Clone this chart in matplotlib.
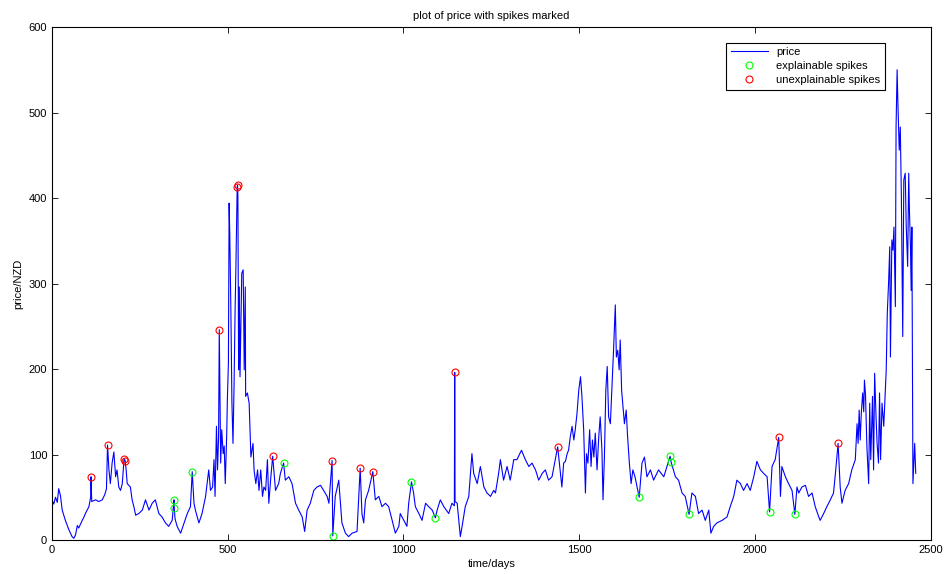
import numpy as np
import matplotlib
matplotlib.use('Agg')
import matplotlib.pyplot as plt

# price series, (day, NZD) pairs kept in chunks
days_a = [0, 5, 10, 15, 19, 24, 29, 38, 48, 57, 62, 67, 72, 76, 86, 91, 95, 105, 110, 111, 113, 124, 133, 143,
          150, 155, 158, 162, 166, 171, 176, 181, 185, 190, 195, 200, 205, 208, 211, 214, 223, 228, 233, 238,
          247, 257, 266, 276, 285, 294, 304, 313, 323, 332, 342, 347, 348, 350, 356, 366, 375, 385, 394, 399,
          404, 408, 418, 427, 437, 446, 451, 457]
price_a = [47, 42, 50, 44, 60, 52, 35, 23, 12, 4, 2, 6, 17, 14, 23, 27, 31, 39, 50, 74, 45, 47, 45, 47,
           53, 60, 111, 82, 66, 90, 103, 74, 82, 62, 58, 66, 95, 93, 82, 66, 62, 47, 39, 29,
           31, 35, 47, 35, 43, 47, 31, 27, 20, 16, 23, 47, 37, 25, 16, 8, 19, 31, 39, 80,
           43, 35, 20, 31, 51, 82, 58, 62]

days_b = [461, 464, 468, 471, 474, 476, 480, 483, 487, 490, 493, 497, 499, 502, 504, 506, 509, 512, 515, 518,
          521, 523, 527, 528, 529, 531, 533, 535, 540, 544, 547, 550, 551, 556, 561, 566, 569, 572, 575, 580,
          585, 589, 594, 599, 603, 608, 613, 617, 622, 628, 636, 645, 650, 659, 664, 674, 683, 693, 702, 712,
          719, 726, 735, 745, 754, 764, 773, 783, 788, 797, 799, 806, 816, 825, 835, 844, 854]
price_b = [94, 51, 133, 82, 121, 246, 90, 129, 101, 110, 66, 121, 164, 207, 394, 355, 269, 160, 113, 179,
           269, 312, 413, 415, 402, 199, 296, 191, 312, 316, 199, 296, 168, 172, 160, 97, 105, 113, 82, 66,
           82, 58, 82, 51, 62, 58, 94, 43, 70, 98, 58, 66, 78, 90, 70, 74, 66, 43, 35, 27,
           10, 35, 43, 58, 62, 64, 58, 51, 43, 93, 5, 51, 70, 20, 8, 4, 8]

days_c = [868, 877, 882, 887, 892, 901, 913, 920, 930, 939, 949, 958, 968, 977, 987, 991, 1001, 1010, 1015,
          1023, 1029, 1034, 1044, 1053, 1063, 1072, 1082, 1091, 1096, 1105, 1115, 1129, 1138, 1145, 1146, 1147,
          1153, 1162, 1167, 1176, 1186, 1195, 1200, 1210, 1219, 1229, 1238, 1248, 1257, 1262, 1271, 1276, 1285,
          1295, 1304, 1314, 1323, 1336, 1347, 1357, 1366, 1376, 1385, 1395, 1404, 1413, 1423, 1439]
price_c = [10, 84, 31, 20, 47, 58, 80, 47, 51, 39, 43, 39, 23, 8, 16, 31, 23, 16, 43,
           68, 55, 39, 31, 23, 43, 39, 35, 26, 35, 47, 39, 31, 43, 40, 196, 45,
           43, 4, 16, 39, 51, 101, 78, 66, 86, 62, 55, 51, 58, 55, 78, 94, 70,
           86, 70, 94, 94, 105, 94, 86, 90, 82, 70, 78, 82, 70, 74, 109]

days_d = [1447, 1451, 1456, 1461, 1466, 1470, 1475, 1480, 1485, 1489, 1494, 1499, 1504, 1508, 1513, 1518,
          1521, 1525, 1530, 1534, 1538, 1542, 1546, 1551, 1556, 1560, 1565, 1568, 1572, 1576, 1580, 1584,
          1589, 1594, 1598, 1603, 1606, 1610, 1614, 1617, 1621, 1625, 1629, 1634, 1638, 1643, 1648, 1653,
          1659, 1665, 1671, 1679, 1686]
price_d = [78, 62, 90, 92, 101, 105, 121, 133, 117, 129, 148, 175, 191, 168, 129, 55,
           101, 90, 129, 86, 117, 97, 125, 82, 121, 144, 105, 47, 97, 175, 203, 144,
           136, 183, 222, 275, 214, 222, 199, 234, 175, 156, 136, 152, 121, 90, 66, 82,
           74, 62, 50, 90, 97]

days_e = [1693, 1703, 1712, 1726, 1741, 1759, 1762, 1774, 1783, 1793, 1802, 1813, 1821, 1831, 1840, 1850,
          1859, 1869, 1875, 1883, 1892, 1907, 1921, 1930, 1940, 1949, 1959, 1968, 1978, 1987, 1997, 2006,
          2016, 2025, 2035, 2042, 2049, 2058, 2068, 2073, 2077, 2087, 2096, 2106, 2114, 2120, 2125, 2134,
          2144, 2153, 2163, 2172, 2182, 2186, 2196, 2205, 2215, 2224, 2229, 2237, 2243, 2248, 2257, 2267,
          2276]
price_e = [74, 82, 70, 82, 74, 98, 91, 74, 70, 55, 51, 30, 55, 51, 31, 35,
           23, 35, 8, 16, 20, 23, 27, 39, 51, 70, 66, 58, 66, 58, 74, 92,
           82, 78, 74, 33, 86, 94, 120, 51, 86, 74, 66, 58, 30, 62, 55, 62,
           64, 51, 55, 39, 27, 23, 31, 39, 47, 55, 76, 113, 62, 43, 58, 66,
           82]

days_f = [2286, 2291, 2294, 2297, 2300, 2303, 2307, 2310, 2312, 2315, 2319, 2324, 2327, 2330, 2335, 2338,
          2341, 2345, 2348, 2352, 2355, 2358, 2362, 2367, 2371, 2374, 2377, 2381, 2384, 2386, 2390, 2393,
          2396, 2400, 2402, 2405, 2407, 2411, 2414, 2417, 2421, 2424, 2428, 2431, 2435, 2438, 2440, 2443,
          2445, 2447, 2450, 2455, 2458]
price_f = [94, 136, 113, 152, 117, 148, 172, 150, 187, 170, 109, 66, 160, 94, 168, 82,
           195, 144, 113, 90, 172, 94, 160, 133, 172, 199, 265, 304, 343, 214, 351, 339,
           366, 273, 483, 550, 515, 456, 483, 405, 238, 421, 429, 366, 320, 429, 386, 343,
           292, 366, 66, 113, 78]

days = days_a + days_b + days_c + days_d + days_e + days_f
price = price_a + price_b + price_c + price_d + price_e + price_f

# spike days
explainable_days = [347, 348, 399, 659, 799, 1023, 1091, 1671, 1759, 1762, 1813, 2042, 2114]
unexplainable_days = [111, 158, 205, 208, 476, 527, 528, 628, 797, 877, 913, 1146, 1439, 2068, 2237]

lookup = dict(zip(days, price))
expl_price = [lookup[d] for d in explainable_days]
unexpl_price = [lookup[d] for d in unexplainable_days]

plt.rcParams['font.family'] = ['Liberation Sans', 'DejaVu Sans']
plt.rcParams['font.size'] = 8

fig = plt.figure(figsize=(9.44, 5.74), dpi=100)
ax = fig.add_axes([0.0551, 0.0592, 0.9306, 0.8937])

ax.plot(days, price, color=(0, 0, 1), linewidth=0.8, label='price')
ax.plot(explainable_days, expl_price, linestyle='none', marker='o', markersize=5,
        markerfacecolor='none', markeredgecolor=(0, 1, 0), markeredgewidth=0.8,
        label='explainable spikes')
ax.plot(unexplainable_days, unexpl_price, linestyle='none', marker='o', markersize=5,
        markerfacecolor='none', markeredgecolor=(1, 0, 0), markeredgewidth=0.8,
        label='unexplainable spikes')

ax.set_xlim(0, 2500)
ax.set_ylim(0, 600)
ax.set_xticks(np.arange(0, 2501, 500))
ax.set_yticks(np.arange(0, 601, 100))
ax.tick_params(direction='in', top=True, right=True, length=4, width=0.6, labelsize=8)
for s in ax.spines.values():
    s.set_linewidth(0.8)

ax.set_title('plot of price with spikes marked', fontsize=8, pad=6)
ax.set_xlabel('time/days', fontsize=8, labelpad=3)
ax.set_ylabel('price/NZD', fontsize=8, labelpad=4)

leg = ax.legend(loc='upper right', bbox_to_anchor=(0.9545, 0.98), fancybox=False,
                framealpha=1, edgecolor='black', handlelength=3.3, fontsize=8,
                borderpad=0.4, labelspacing=0.35, handletextpad=0.8)
leg.get_frame().set_linewidth(0.8)

plt.savefig('out.png', dpi=100)
plt.close('all')
